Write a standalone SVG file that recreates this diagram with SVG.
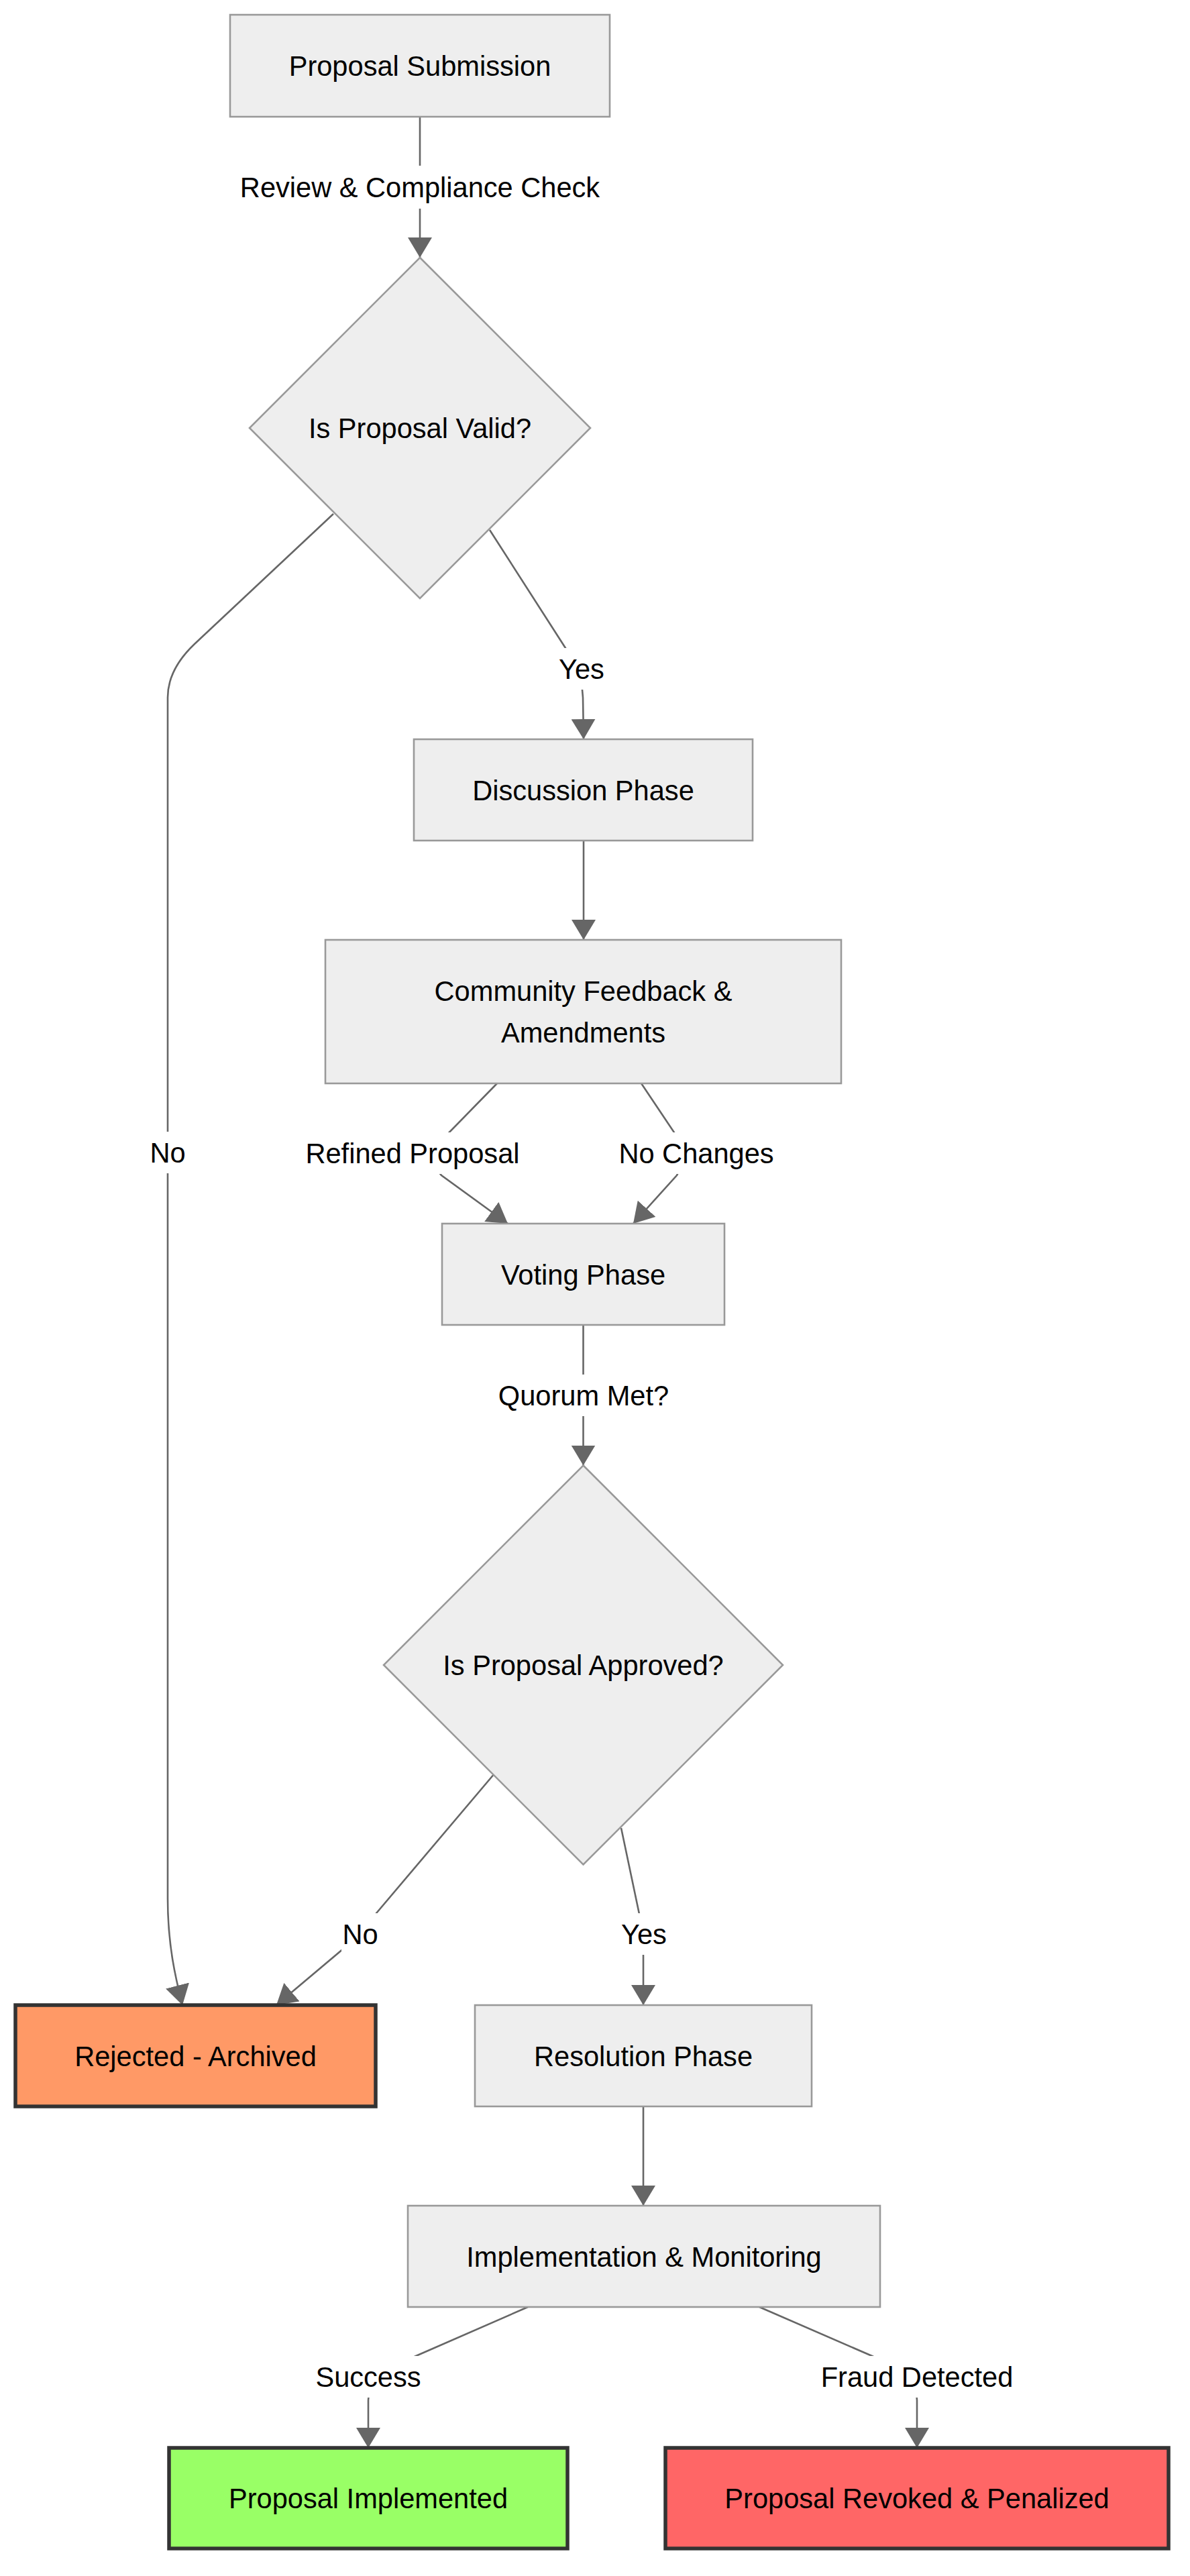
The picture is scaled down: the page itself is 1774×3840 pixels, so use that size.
<svg xmlns="http://www.w3.org/2000/svg" width="1774" height="3840" viewBox="0 0 1774 3840">
<defs>
<style>
.node{fill:#eeeeee;stroke:#999999;stroke-width:2.6}
.term{stroke:#333333;stroke-width:5.5}
.t{font-family:"Liberation Sans",Arial,sans-serif;font-size:41.6px;fill:#000;text-anchor:middle;dominant-baseline:central}
.edge{fill:none;stroke:#666666;stroke-width:2.6}
.lbg{fill:#ffffff}
</style>
<marker id="arr" viewBox="0 0 10 10" refX="10" refY="5" markerUnits="userSpaceOnUse" markerWidth="30" markerHeight="36" orient="auto" preserveAspectRatio="none">
<path d="M0,0 L10,5 L0,10 z" fill="#666666"/>
</marker>
</defs>
<rect width="1774" height="3840" fill="#ffffff"/>
<g id="connectors">
<path class="edge" d="M626,174 L626,384" marker-end="url(#arr)"/>
<path class="edge" d="M730,790 L843,966 Q868,1005 869,1040 L870,1102" marker-end="url(#arr)"/>
<path class="edge" d="M870,1253 L870,1401" marker-end="url(#arr)"/>
<path class="edge" d="M741,1615 L653,1705 Q637,1730 658,1752 L757,1824" marker-end="url(#arr)"/>
<path class="edge" d="M956,1615 L1013,1700 Q1022,1730 1009,1752 L944,1824" marker-end="url(#arr)"/>
<path class="edge" d="M869.5,1975 L869.5,2184.5" marker-end="url(#arr)"/>
<path class="edge" d="M497,766 L290,960 Q250,998 250,1040 L250,2830 C250,2900 262,2950 272,2989" marker-end="url(#arr)"/>
<path class="edge" d="M737,2644 L561,2852 L538,2883 L412,2989" marker-end="url(#arr)"/>
<path class="edge" d="M926,2725 L954,2858 L959,2915 L959,2989" marker-end="url(#arr)"/>
<path class="edge" d="M959,3140 L959,3288" marker-end="url(#arr)"/>
<path class="edge" d="M787,3439 L620,3512 Q549,3543 549,3578 L549,3649" marker-end="url(#arr)"/>
<path class="edge" d="M1132,3439 L1300,3512 Q1367,3543 1367,3578 L1367,3649" marker-end="url(#arr)"/>
<g id="edge-labels">
<rect class="lbg" x="358" y="247" width="536" height="64"/>
<text class="t" x="626" y="279">Review &amp; Compliance Check</text>
<rect class="lbg" x="834" y="966" width="66" height="62"/>
<text class="t" x="867" y="997">Yes</text>
<rect class="lbg" x="454" y="1688" width="322" height="62"/>
<text class="t" x="615" y="1719">Refined Proposal</text>
<rect class="lbg" x="922" y="1688" width="232" height="62"/>
<text class="t" x="1038" y="1719">No Changes</text>
<rect class="lbg" x="742" y="2049" width="256" height="62"/>
<text class="t" x="870" y="2080">Quorum Met?</text>
<rect class="lbg" x="222" y="1687" width="56" height="62"/>
<text class="t" x="250" y="1718">No</text>
<rect class="lbg" x="509" y="2852" width="56" height="62"/>
<text class="t" x="537" y="2883">No</text>
<rect class="lbg" x="926" y="2852" width="68" height="62"/>
<text class="t" x="960" y="2883">Yes</text>
<rect class="lbg" x="470" y="3512" width="158" height="62"/>
<text class="t" x="549" y="3543">Success</text>
<rect class="lbg" x="1223" y="3512" width="288" height="62"/>
<text class="t" x="1367" y="3543">Fraud Detected</text>
</g>
</g>
<g id="n1">
<rect class="node" x="343" y="22" width="566" height="152"/>
<text class="t" x="626" y="98">Proposal Submission</text>
</g>
<g id="d1">
<polygon class="node" points="626,384 880,638 626,892 372,638"/>
<text class="t" x="626" y="638">Is Proposal Valid?</text>
</g>
<g id="n2">
<rect class="node" x="617" y="1102" width="505" height="151"/>
<text class="t" x="869.5" y="1178">Discussion Phase</text>
</g>
<g id="n3">
<rect class="node" x="485" y="1401" width="769" height="214"/>
<text class="t" x="869.5" y="1477">Community Feedback &amp;</text>
<text class="t" x="869.5" y="1539">Amendments</text>
</g>
<g id="n4">
<rect class="node" x="659" y="1824" width="421" height="151"/>
<text class="t" x="869.5" y="1900">Voting Phase</text>
</g>
<g id="d2">
<polygon class="node" points="869.5,2184.5 1167,2482 869.5,2779.5 572,2482"/>
<text class="t" x="869.5" y="2482">Is Proposal Approved?</text>
</g>
<g id="n5">
<rect class="term" fill="#ff9966" x="23" y="2989" width="537" height="151"/>
<text class="t" x="291.5" y="3065">Rejected - Archived</text>
</g>
<g id="n6">
<rect class="node" x="708" y="2989" width="502" height="151"/>
<text class="t" x="959" y="3065">Resolution Phase</text>
</g>
<g id="n7">
<rect class="node" x="608" y="3288" width="704" height="151"/>
<text class="t" x="960" y="3364">Implementation &amp; Monitoring</text>
</g>
<g id="n8">
<rect class="term" fill="#99ff66" x="252" y="3649" width="594" height="150"/>
<text class="t" x="549" y="3724">Proposal Implemented</text>
</g>
<g id="n9">
<rect class="term" fill="#ff6666" x="992" y="3649" width="750" height="150"/>
<text class="t" x="1367" y="3724">Proposal Revoked &amp; Penalized</text>
</g>
</svg>
